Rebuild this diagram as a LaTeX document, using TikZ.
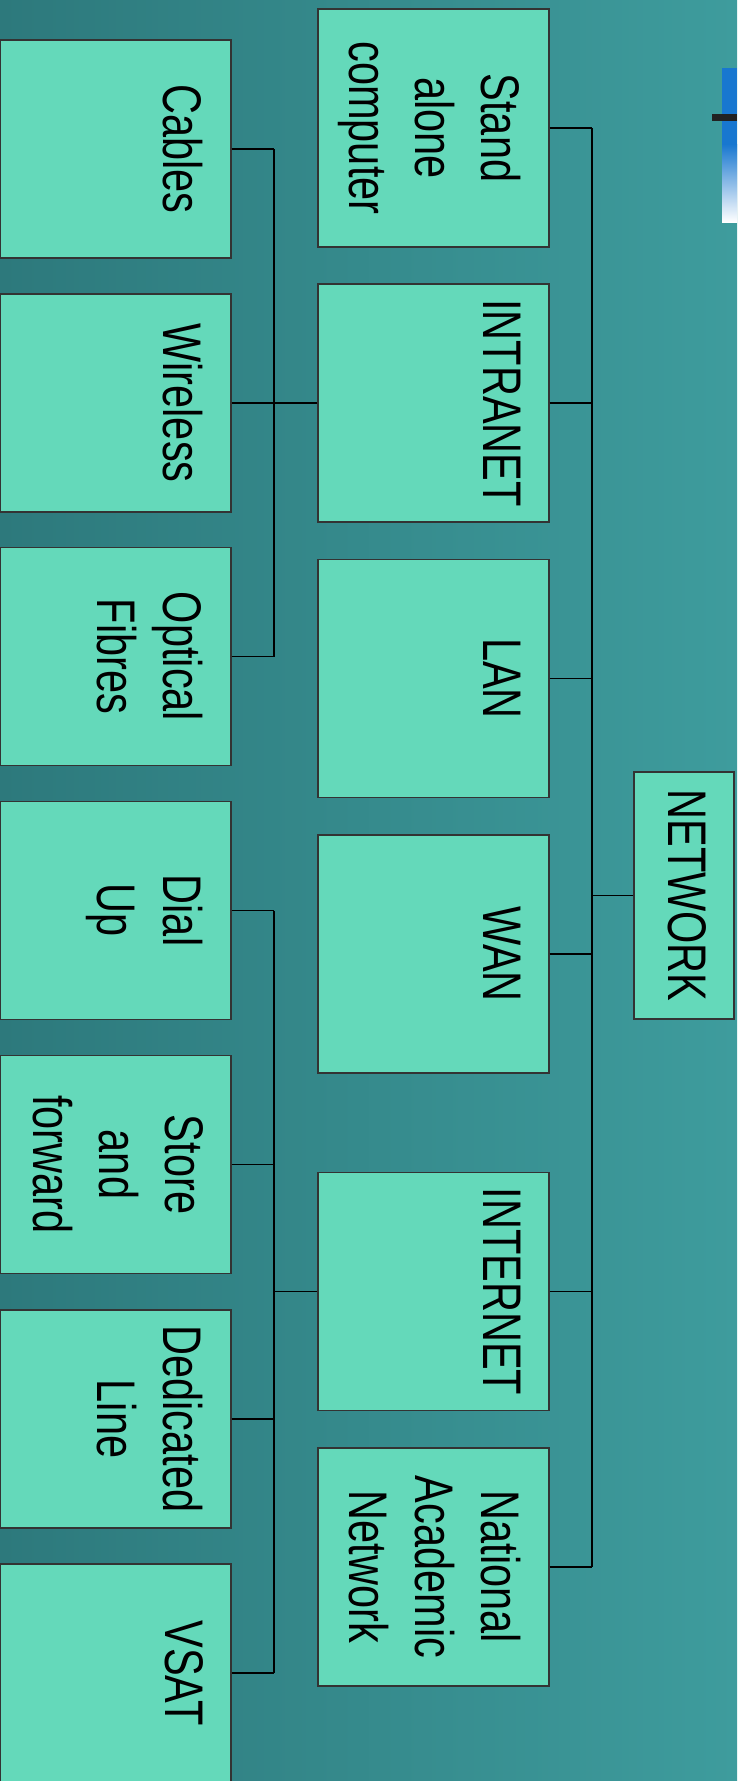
\documentclass[tikz,border=0pt]{standalone}
\usepackage{fontspec}
\setmainfont{Liberation Sans}
\definecolor{bgL}{RGB}{45,121,124}
\definecolor{bgR}{RGB}{62,156,157}
\definecolor{boxfill}{RGB}{100,217,186}
\definecolor{boxline}{RGB}{51,51,51}
\definecolor{topblue}{RGB}{24,119,208}
\definecolor{darkbar}{RGB}{34,34,34}
\begin{document}
\begin{tikzpicture}[x=1pt,y=-1pt,
  box/.style={draw=boxline, line width=1.2pt, fill=boxfill, inner sep=0pt,
    minimum width=231pt, minimum height=#1},
  box/.default=238pt,
  lbl/.style={rotate=-90, yscale=1.31, align=center, inner sep=0pt, anchor=north,
    font=\fontsize{41.5}{50.4}\selectfont, text=black},
  conn/.style={draw=black, line width=1.5pt}]
\useasboundingbox (0,0) rectangle (737,1781);
\shade[left color=bgL, right color=bgR] (0,0) rectangle (737,1781);
% top-right decoration
\fill[topblue] (722,68) rectangle (737,146);
\shade[top color=topblue, bottom color=white] (722,144) rectangle (737,222);
\fill[darkbar] (712,114) rectangle (737,121);
% buses
\coordinate (busA) at (592,0);
\coordinate (busB) at (274,0);
% root
\node[box, minimum width=100pt, minimum height=247pt] (network) at (684,895.5) {};
% level 1
\node[box] (standalone) at (433.5,128) {};
\node[box] (intranet) at (433.5,403) {};
\node[box] (lan) at (433.5,678.5) {};
\node[box] (wan) at (433.5,954) {};
\node[box] (internet) at (433.5,1291.5) {};
\node[box] (national) at (433.5,1567) {};
% level 2
\node[box=218pt, minimum width=230.5pt] (cables) at (115.75,149) {};
\node[box=218pt, minimum width=230.5pt] (wireless) at (115.75,403) {};
\node[box=218pt, minimum width=230.5pt] (optical) at (115.75,656.5) {};
\node[box=218pt, minimum width=230.5pt] (dialup) at (115.75,910.5) {};
\node[box=218pt, minimum width=230.5pt] (store) at (115.75,1164.5) {};
\node[box=218pt, minimum width=230.5pt] (dedicated) at (115.75,1419) {};
\node[box=218pt, minimum width=230.5pt] (vsat) at (115.75,1673) {};
% labels
\node[lbl] (network-l) at ([xshift=-28pt]network.east) {NETWORK};
\node[lbl] (standalone-l) at ([xshift=-28pt]standalone.east) {Stand\\alone\\computer};
\node[lbl] (intranet-l) at ([xshift=-28pt]intranet.east) {INTRANET};
\node[lbl] (lan-l) at ([xshift=-28pt]lan.east) {LAN};
\node[lbl] (wan-l) at ([xshift=-28pt]wan.east) {WAN};
\node[lbl] (internet-l) at ([xshift=-28pt]internet.east) {INTERNET};
\node[lbl] (national-l) at ([xshift=-28pt]national.east) {National\\Academic\\Network};
\node[lbl] (cables-l) at ([xshift=-28pt]cables.east) {Cables};
\node[lbl] (wireless-l) at ([xshift=-28pt]wireless.east) {Wireless};
\node[lbl] (optical-l) at ([xshift=-28pt]optical.east) {Optical\\Fibres};
\node[lbl] (dialup-l) at ([xshift=-28pt]dialup.east) {Dial\\Up};
\node[lbl] (store-l) at ([xshift=-28pt]store.east) {Store\\and\\forward};
\node[lbl] (dedicated-l) at ([xshift=-28pt]dedicated.east) {Dedicated\\Line};
\node[lbl] (vsat-l) at ([xshift=-28pt]vsat.east) {VSAT};
% connectors: network tree
\draw[conn] (network.west) -- (network.west -| busA);
\draw[conn] (standalone.east -| busA) -- (national.east -| busA);
\foreach \n in {standalone,intranet,lan,wan,internet,national}
  \draw[conn] (\n.east) -- (\n.east -| busA);
% intranet tree
\draw[conn] (intranet.west) -- (intranet.west -| busB);
\draw[conn] (cables.east -| busB) -- (optical.east -| busB);
\foreach \n in {cables,wireless,optical}
  \draw[conn] (\n.east) -- (\n.east -| busB);
% internet tree
\draw[conn] (internet.west) -- (internet.west -| busB);
\draw[conn] (dialup.east -| busB) -- (vsat.east -| busB);
\foreach \n in {dialup,store,dedicated,vsat}
  \draw[conn] (\n.east) -- (\n.east -| busB);
\end{tikzpicture}
\end{document}
